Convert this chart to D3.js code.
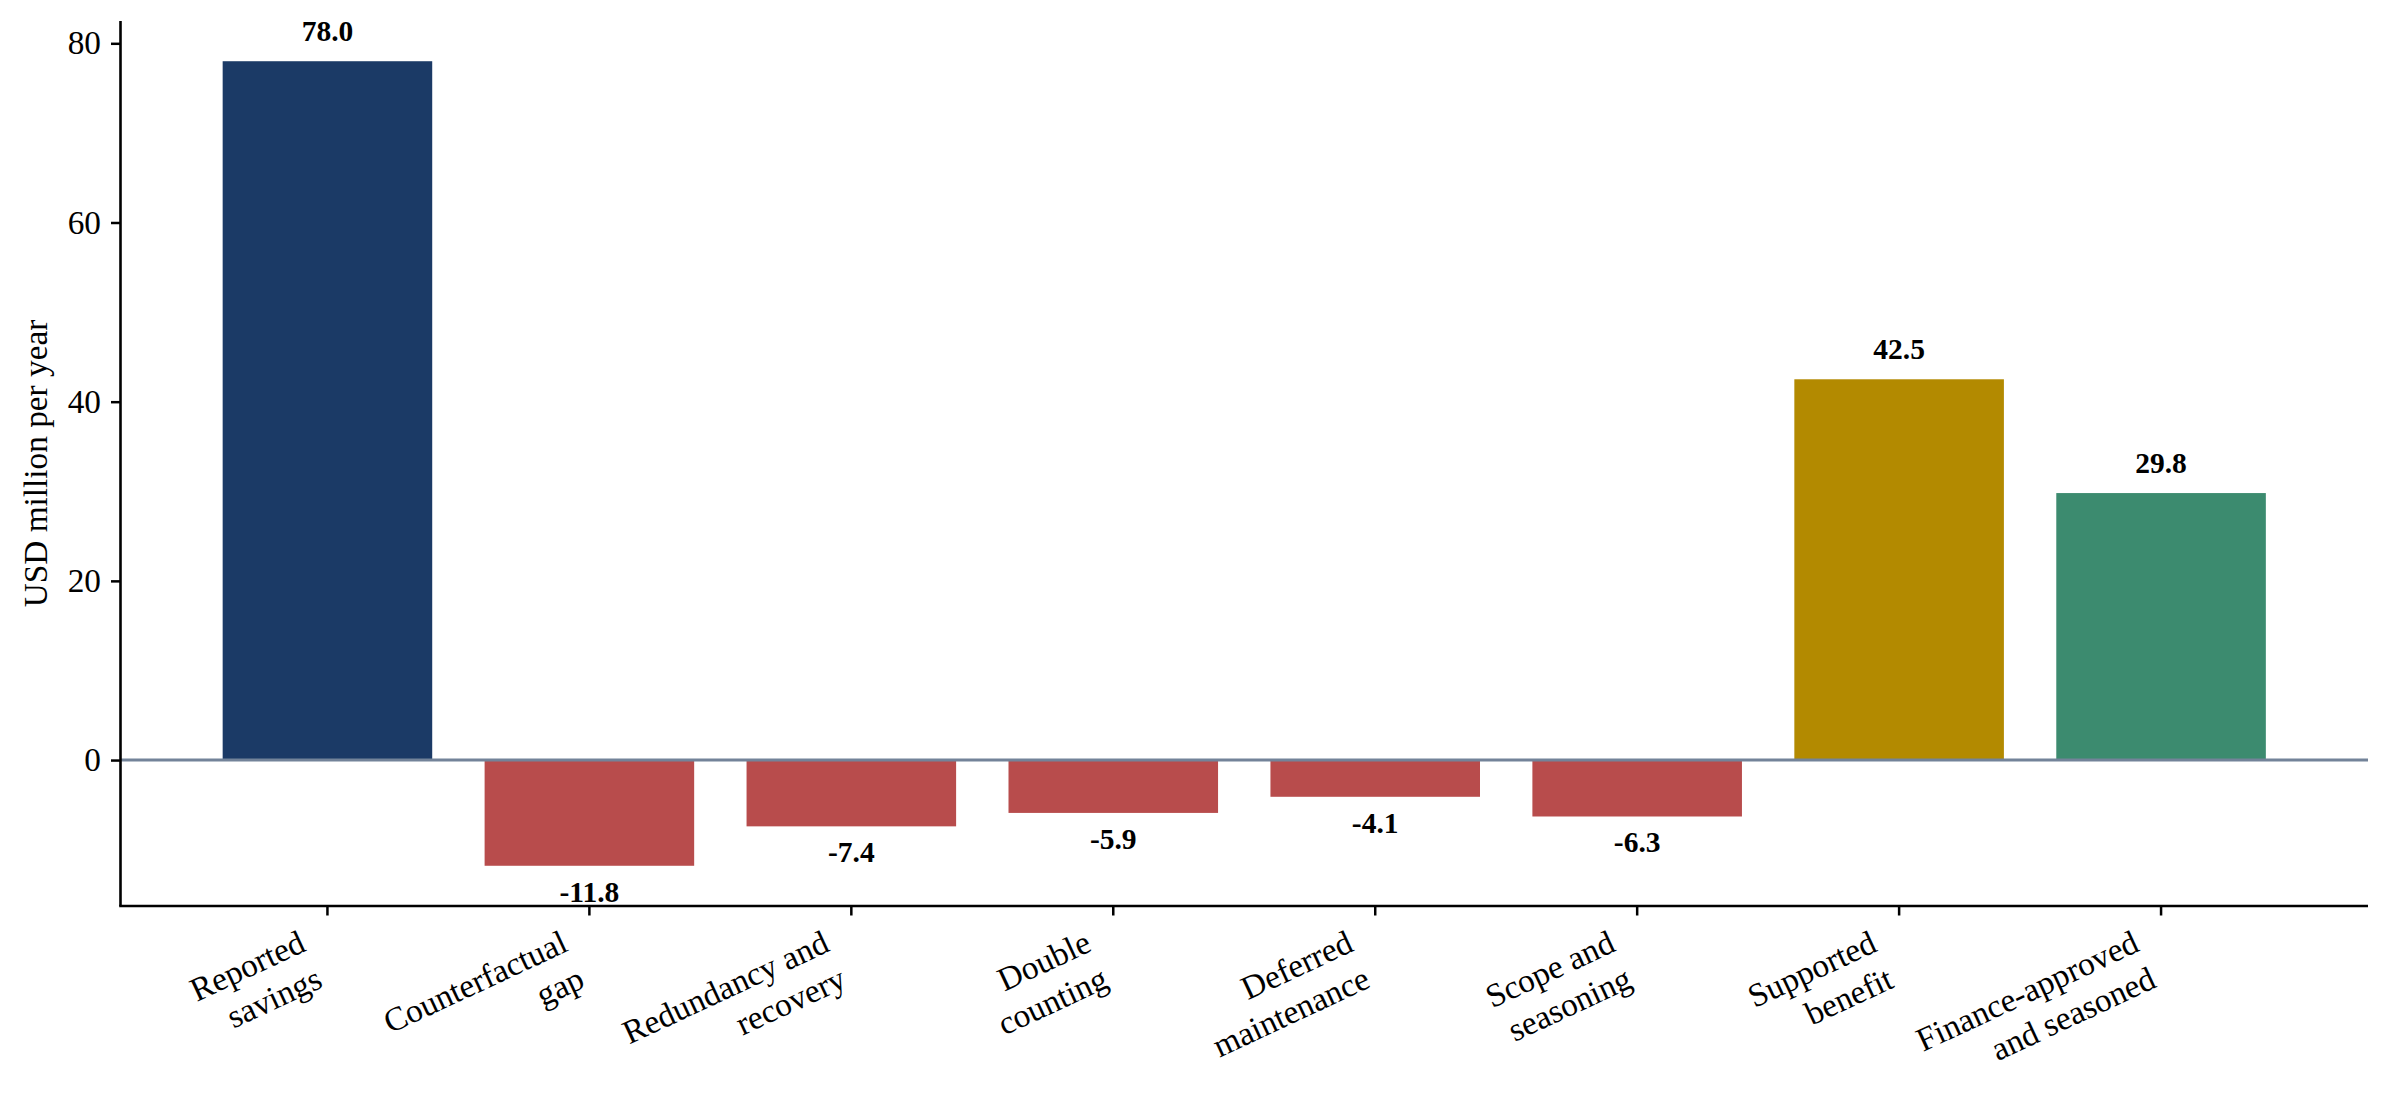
<!DOCTYPE html>
<html>
<head>
<meta charset="utf-8">
<script src="https://cdn.jsdelivr.net/npm/d3@7"></script>
<style>
  body { margin: 0; background: #fff; }
  svg text { font-family: "Liberation Serif", "Times New Roman", serif; }
</style>
</head>
<body>
<div id="canvas"></div>
<script>
// data
const categories = [
  "Reported\nsavings",
  "Counterfactual\ngap",
  "Redundancy and\nrecovery",
  "Double\ncounting",
  "Deferred\nmaintenance",
  "Scope and\nseasoning",
  "Supported\nbenefit",
  "Finance-approved\nand seasoned"
];
const values = [78.0, -11.8, -7.4, -5.9, -4.1, -6.3, 42.5, 29.8];
const barColors = ["#1b3a66", "#b84c4c", "#b84c4c", "#b84c4c", "#b84c4c", "#b84c4c", "#b38a00", "#3c8b6f"];
const yTicks = [0, 20, 40, 60, 80];
const yLabel = "USD million per year";

const width = 2391;
const height = 1115;
const margin = { top: 21, left: 120.5, bottom: 209, right: 23 };
const iwidth = width - margin.left - margin.right;
const iheight = height - margin.top - margin.bottom;

const svg = d3.select("#canvas").append("svg")
  .attr("width", width)
  .attr("height", height);

const g = svg.append("g").attr("transform", `translate(${margin.left},${margin.top})`);

// matplotlib-like limits: 5% margins around the data
const n = values.length;
const xPad = (n - 0.2) * 0.05;
const xi = d3.scaleLinear().domain([-0.4 - xPad, n - 1 + 0.4 + xPad]).range([0, iwidth]);
const x = d3.scaleBand()
  .domain(d3.range(n))
  .range([xi(-0.5), xi(n - 0.5)])
  .paddingInner(0.2)
  .paddingOuter(0.1);

const ymin = d3.min(values), ymax = d3.max(values);
const yPad = (ymax - ymin) * 0.05;
const y = d3.scaleLinear().domain([ymin - yPad, ymax + yPad]).range([iheight, 0]);

// bars
g.selectAll("rect.bar").data(values).enter().append("rect")
  .attr("class", "bar")
  .attr("x", (d, i) => x(i))
  .attr("width", x.bandwidth())
  .attr("y", d => y(Math.max(0, d)))
  .attr("height", d => Math.abs(y(d) - y(0)))
  .style("fill", (d, i) => barColors[i]);

// zero line
g.append("line")
  .attr("x1", 0).attr("x2", iwidth)
  .attr("y1", y(0)).attr("y2", y(0))
  .style("stroke", "#738399")
  .style("stroke-width", 3);

// value labels
g.selectAll("text.val").data(values).enter().append("text")
  .attr("class", "val")
  .attr("x", (d, i) => x(i) + x.bandwidth() / 2)
  .attr("y", d => d >= 0 ? y(d) - 20 : y(d) + 36)
  .attr("text-anchor", "middle")
  .style("font-weight", "bold")
  .style("font-size", "29.5px")
  .style("fill", "#000")
  .text(d => d.toFixed(1));

// y axis
const yAxis = g.append("g")
  .call(d3.axisLeft(y).tickValues(yTicks).tickSize(9.5).tickPadding(10).tickFormat(d3.format("d")));
yAxis.selectAll("text").style("font-size", "33.3px").style("fill", "#000")
  .style("font-family", "Liberation Serif, serif");
yAxis.selectAll("line").style("stroke", "#000").style("stroke-width", 2.5);
yAxis.select(".domain").remove();

// x axis
const xAxis = g.append("g")
  .attr("transform", `translate(0,${iheight})`)
  .call(d3.axisBottom(x).tickSize(9.5).tickFormat(""));
xAxis.selectAll("line").style("stroke", "#000").style("stroke-width", 2.5);
xAxis.select(".domain").remove();

// spines
g.append("line").attr("x1", 0).attr("x2", 0).attr("y1", 0).attr("y2", iheight)
  .style("stroke", "#000").style("stroke-width", 2.6);
g.append("line").attr("x1", -1.3).attr("x2", iwidth).attr("y1", iheight).attr("y2", iheight)
  .style("stroke", "#000").style("stroke-width", 2.6);

// rotated category labels, right-aligned like matplotlib rotation=25, ha='right'
const angle = -25;
const rad = angle * Math.PI / 180;
const labelTop = iheight + 17;
categories.forEach((c, i) => {
  const lab = g.append("g");
  const t = lab.append("text")
    .attr("text-anchor", "end")
    .style("font-size", "33.3px")
    .style("fill", "#000");
  c.split("\n").forEach((line, k) => {
    t.append("tspan").attr("x", 0).attr("dy", k === 0 ? 0 : "1.2em").text(line);
  });
  const bb = t.node().getBBox();
  const corners = [[bb.x, bb.y], [bb.x + bb.width, bb.y], [bb.x, bb.y + bb.height], [bb.x + bb.width, bb.y + bb.height]]
    .map(([px, py]) => [px * Math.cos(rad) - py * Math.sin(rad), px * Math.sin(rad) + py * Math.cos(rad)]);
  const maxX = d3.max(corners, p => p[0]);
  const minY = d3.min(corners, p => p[1]);
  const cx = x(i) + x.bandwidth() / 2;
  lab.attr("transform", `translate(${cx - maxX},${labelTop - minY}) rotate(${angle})`);
});

// y label
svg.append("text")
  .attr("transform", `translate(35,${margin.top + iheight / 2}) rotate(-90)`)
  .attr("text-anchor", "middle")
  .attr("dy", "0.35em")
  .style("font-size", "33.3px")
  .style("fill", "#000")
  .text(yLabel);
</script>
</body>
</html>
